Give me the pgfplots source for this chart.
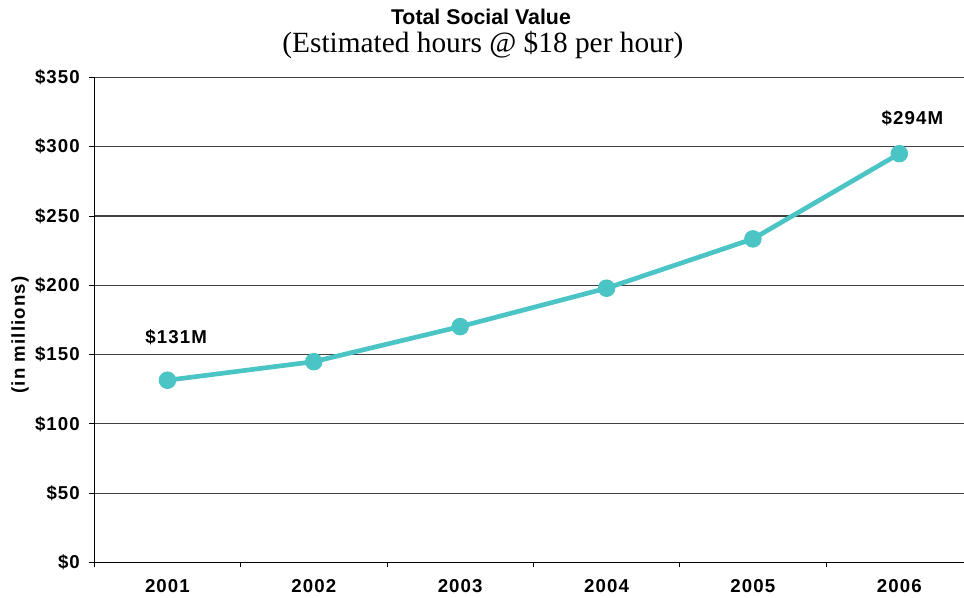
\documentclass[border=0pt]{standalone}
\usepackage{fontspec}
\setmainfont{Liberation Sans}
\newfontfamily\lblfont[LetterSpace=6]{Liberation Sans}
\newfontfamily\seriffont{Liberation Serif}
\usepackage{pgfplots}
\pgfplotsset{compat=1.18}
\usetikzlibrary{calc}
\definecolor{lineteal}{HTML}{4AC4C4}
\begin{document}
\begin{tikzpicture}
\begin{axis}[
  name=ax,
  scale only axis, width=652.3pt, height=363.75pt,
  xmin=-0.5, xmax=5.442, ymin=0, ymax=350,
  axis lines*=left,
  xtick={-0.5,0.5,1.5,2.5,3.5,4.5}, xticklabels={},
  extra x ticks={0,1,2,3,4,5},
  extra x tick labels={2001,2002,2003,2004,2005,2006},
  extra x tick style={major tick length=0pt, grid=none},
  ytick={0,50,100,150,200,250,300,350},
  yticklabels={\$0,\$50,\$100,\$150,\$200,\$250,\$300,\$350},
  tick align=outside, major tick length=3.75pt,
  ymajorgrids, grid style={black!75, line width=0.8pt},
  tick style={black, line width=0.7pt},
  axis line style={black, line width=0.8pt},
  tick label style={font=\fontsize{14}{16}\selectfont\lblfont\bfseries},
  xticklabel style={yshift=-9.5pt},
  yticklabel style={xshift=-3.5pt},
  /pgf/number format/assume math mode=true,
  clip=false,
]
\addplot[lineteal, line width=3.5pt, mark=*, mark size=4.8pt, mark options={solid, fill=lineteal, draw=lineteal}]
  coordinates {(0,131.5)(1,144.9)(2,170.2)(3,197.9)(4,233.5)(5,295)};
\node[font=\fontsize{14}{16}\selectfont\lblfont\bfseries] at (axis cs:0.06,162.7) {\$131M};
\node[font=\fontsize{14}{16}\selectfont\lblfont\bfseries] at (axis cs:5.09,320.8) {\$294M};
\end{axis}
\node[font=\fontsize{16}{18}\selectfont\bfseries] at ($(ax.south west)+(290pt,409.1pt)$) {Total Social Value};
\node[font=\fontsize{22}{24}\selectfont\seriffont] at ($(ax.south west)+(291.5pt,388.1pt)$) {(Estimated hours @ \$18 per hour)};
\node[font=\fontsize{14}{16}\selectfont\lblfont\bfseries, rotate=90] at ($(ax.south west)+(-55.7pt,170.6pt)$) {(in millions)};
\pgfresetboundingbox
\path ($(ax.south west)+(-70.7pt,-26.6pt)$) rectangle ($(ax.north east)+(0pt,58.1pt)$);
\end{tikzpicture}
\end{document}
